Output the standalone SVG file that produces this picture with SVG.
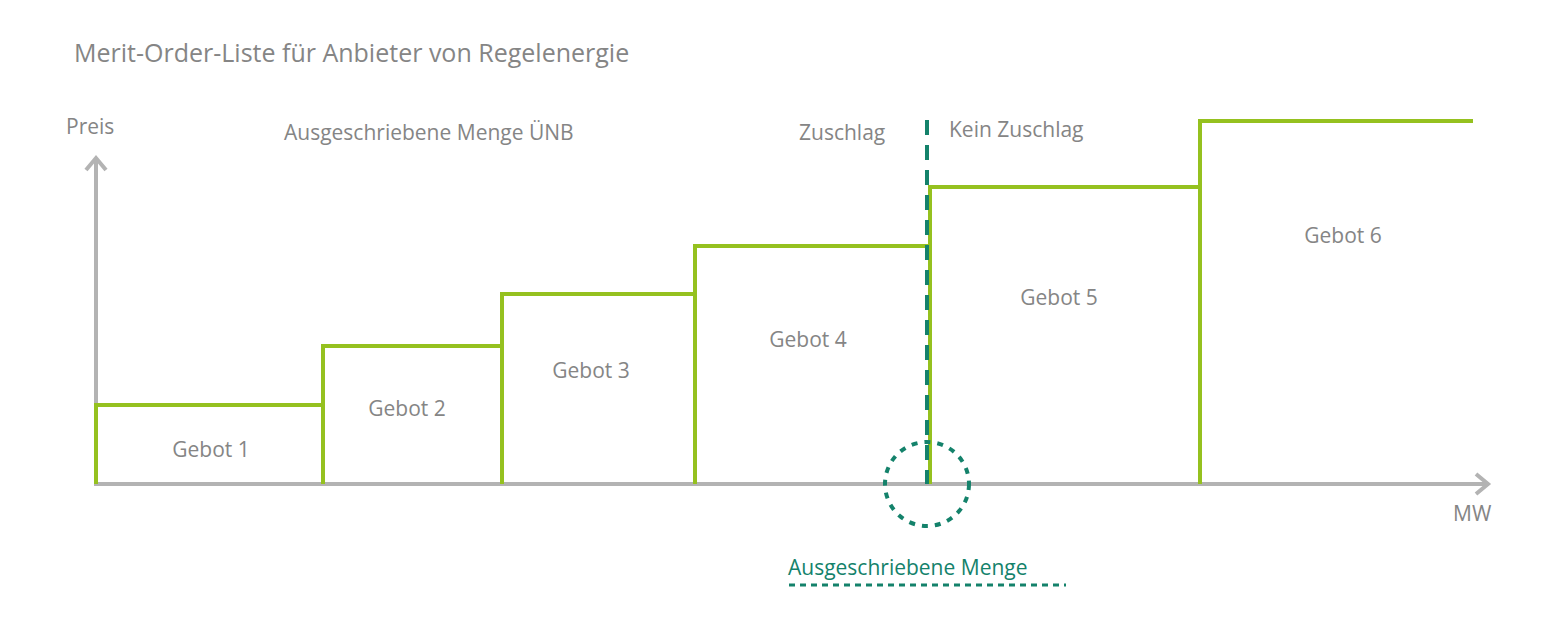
<svg xmlns="http://www.w3.org/2000/svg" width="1563" height="626" viewBox="0 0 1563 626">
<style>
text{font-family:"Open Sans","Liberation Sans",sans-serif;fill:#858585;font-size:21px}
.t{font-size:25px}
.lab{text-anchor:middle}
.ax{stroke:#b3b3b3;stroke-width:4;fill:none}
.st{stroke:#95c11f;stroke-width:4;fill:none}
.tl{stroke:#14826b;fill:none}
</style>
<rect width="1563" height="626" fill="#fff"/>
<text class="t" x="74" y="62">Merit-Order-Liste für Anbieter von Regelenergie</text>
<g id="axes">
<path class="ax" d="M96,485V158M86,170L96,158L106,170"/>
<path class="ax" d="M94,484H1488M1476,474L1488,484L1476,494"/>
<text x="66" y="134">Preis</text>
<text x="1453" y="521">MW</text>
</g>
<g id="steps"><path class="st" d="M96,484V405H323V484M323,405V346H502V484M502,346V294H695V484M695,294V246H930V484M930,246V187H1200V484M1200,187V121H1473"/></g>
<g id="labels">
<text class="lab" x="211" y="457">Gebot 1</text>
<text class="lab" x="407" y="416">Gebot 2</text>
<text class="lab" x="591" y="378">Gebot 3</text>
<text class="lab" x="808" y="347">Gebot 4</text>
<text class="lab" x="1059" y="305">Gebot 5</text>
<text class="lab" x="1343" y="243">Gebot 6</text>
<text x="284" y="140">Ausgeschriebene Menge ÜNB</text>
<text x="799" y="140">Zuschlag</text>
<text x="949" y="137">Kein Zuschlag</text>
</g>
<g id="connectors">
<path class="tl" d="M927,120V484" stroke-width="4" stroke-dasharray="15,10"/>
<circle class="tl" cx="927" cy="484" r="42" stroke-width="4" stroke-dasharray="6,7"/>
<path class="tl" d="M789,585H1066" stroke-width="3" stroke-dasharray="6,5"/>
<text x="788" y="575" style="fill:#14826b">Ausgeschriebene Menge</text>
</g>
</svg>
